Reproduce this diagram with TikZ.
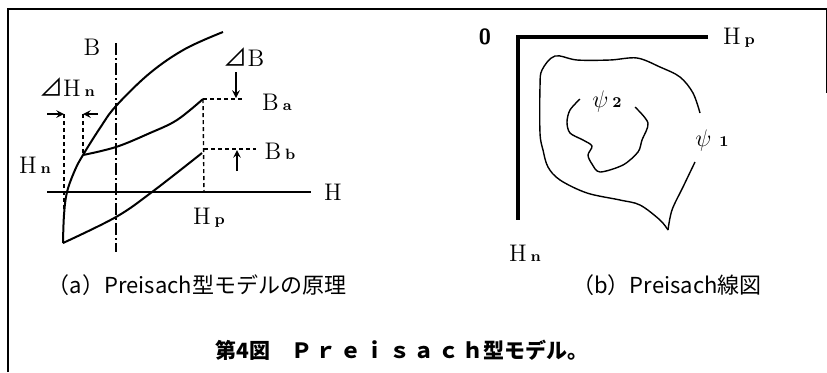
\documentclass[tikz,border=0pt]{standalone}
\usepackage{fontspec}
\usepackage{tikz}
\newfontfamily\jpfont{Noto Sans CJK JP}
\newcommand{\lab}[2]{#1\,{\fontsize{7.5}{8}\selectfont\bfseries #2}}

\begin{document}
\begin{tikzpicture}[x=0.5pt,y=-0.5pt,
    lbl/.style={font=\fontsize{12}{14}\selectfont},
    capt/.style={font=\jpfont\fontsize{11}{13}\selectfont},
    curve/.style={line width=1pt},
    guide/.style={line width=0.7pt,dash pattern=on 2pt off 1.5pt},
    chain/.style={line width=0.6pt,dash pattern=on 6pt off 1.5pt on 1pt off 1.5pt},
    axisb/.style={line width=1.6pt},
    arr/.style={line width=0.7pt,-stealth}]
  \useasboundingbox (0,0) rectangle (827,372);

  % Frame round the figure
  \draw[line width=0.8pt] (8,372) -- (8,9) -- (827,9);
  \draw[line width=0.5pt] (826,9) -- (826,93);

  % (a) hysteresis loop and its points
  \coordinate (tip) at (63,243);
  \coordinate (rev) at (83,155);
  \coordinate (Pa) at (203,99);
  \coordinate (Pb) at (202,153);
  \coordinate (Hp) at (204,192);
  \draw[chain] (116,43) -- (116,252);
  \draw[line width=0.8pt] (47,192) -- (311,192);
  \draw[curve] plot[smooth,tension=0.6] coordinates
    {(tip) (64,215) (67,192) (75,170) (rev) (100,128) (116,106) (150,73) (185,49) (223,32)};
  \draw[curve] plot[smooth,tension=0.6] coordinates
    {(rev) (116,147) (150,133) (177,120) (Pa)};
  \draw[curve] plot[smooth,tension=0.6] coordinates
    {(tip) (116,217) (152,192) (Pb)};

  % Dashed guides and the two differences
  \draw[guide] (Pa) -- (Hp);
  \draw[guide] (Pa) -- ++(42,0);
  \draw[guide] (204,149) -- ++(52,0);
  \draw[arr] (236,72) -- (236,98);
  \draw[arr] (237,171) -- (237,150);
  \coordinate (hn1) at (64,114);
  \coordinate (hn2) at (83,114);
  \draw[guide] (hn1) -- (64,215);
  \draw[guide] (hn2) -- (rev);
  \draw[arr] (hn1) ++(-17,0) -- (hn1);
  \draw[arr] (hn2) ++(15,0) -- (hn2);

  % Labels of (a)
  \node[lbl] (labB) at (92,47) {B};
  \node[lbl] (labdHn) at (67,87) {{\jpfont ⊿}\lab{H}{n}};
  \node[lbl] (labHn) at (35,165) {\lab{H}{n}};
  \node[lbl] (labH) at (333,192) {H};
  \node[lbl] (labHp) at (209,218) {\lab{H}{p}};
  \node[lbl] (labdB) at (244,57) {{\jpfont ⊿}B};
  \node[lbl] (labBa) at (277,102) {\lab{B}{a}};
  \node[lbl] (labBb) at (280,151) {\lab{B}{b}};

  % (b) Preisach plane
  \draw[axisb] (708,37) -- (518,37) -- (518,220);
  \draw[line width=0.7pt] plot[smooth,tension=0.55] coordinates
    {(700,113) (693,93) (680,77) (660,67) (637,58) (610,60) (577,60) (555,56)
     (542,70) (540,87) (540,133) (543,150) (548,167) (560,180) (587,193)
     (620,200) (640,205) (660,220) (668,230)};
  \draw[line width=0.7pt] plot[smooth,tension=0.55] coordinates
    {(668,230) (672,210) (683,187) (695,162)};
  \draw[line width=0.7pt] plot[smooth,tension=0.5] coordinates
    {(580,99) (570,110) (567,122) (570,133) (583,140) (592,146) (588,155)
     (592,164) (600,172) (623,165) (638,152) (642,140) (648,123) (635,107)};

  % Labels of (b)
  \node[font=\sffamily\bfseries\fontsize{11}{13}\selectfont] (lab0) at (485,37) {0};
  \node[lbl] (labHp2) at (739,38) {\lab{H}{p}};
  \node[lbl] (labHn2) at (525,253) {\lab{H}{n}};
  \node[lbl] (psi2) at (607,101) {$\psi$\,{\fontsize{7.5}{8}\selectfont\bfseries 2}};
  \node[lbl] (psi1) at (712,140) {$\psi$\,\,{\fontsize{7.5}{8}\selectfont\bfseries 1}};

  % Captions
  \node[capt] (capa) at (197,285) {（a）Preisach型モデルの原理};
  \node[capt] (capb) at (667,285) {（b）Preisach線図};
  \node[capt,font=\jpfont\bfseries\fontsize{10.5}{12}\selectfont] (title) at (402,350)
    {第4図\quad Ｐ\,ｒ\,ｅ\,ｉ\,ｓ\,ａ\,ｃ\,ｈ型モデル。};
\end{tikzpicture}
\end{document}
